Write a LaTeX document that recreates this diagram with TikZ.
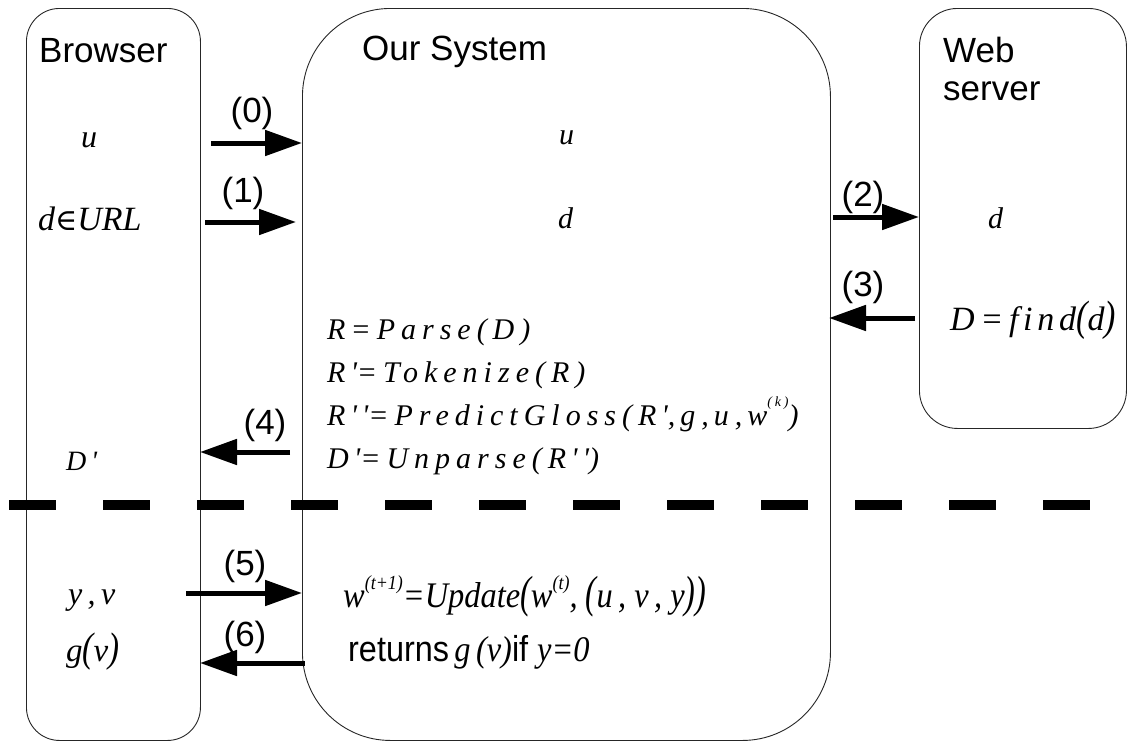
\documentclass[tikz,border=0pt]{standalone}
\usepackage{fontspec}
\setmainfont{Liberation Serif}
\setsansfont{Liberation Sans}
\newfontfamily\elemfont{DejaVu Serif}
\usetikzlibrary{arrows.meta}

\newcommand{\supx}[3][14]{\raisebox{#2}{\fontsize{#1}{#1}\selectfont #3}}
\newcommand{\pr}{\,\textquotesingle}
\newcommand{\tallp}[1]{\scalebox{1}[1.25]{#1}}

\tikzset{
  box/.style={draw=black!85, line width=0.9pt, anchor=north west, inner sep=0pt},
  flow/.style={line width=5pt, -{Triangle[length=37pt,width=25pt]}},
  numlabel/.style={font=\sffamily\fontsize{35}{38}\selectfont, inner sep=0pt},
  title/.style={font=\sffamily\fontsize{35}{38}\selectfont, anchor=base west, inner sep=0pt},
  var/.style={font=\fontsize{32}{34}\selectfont\itshape, anchor=base west, inner sep=0pt},
  formula/.style={font=\fontsize{30}{32}\selectfont\itshape\addfontfeatures{LetterSpace=20},
                  anchor=base west, inner sep=0pt},
  divider/.style={line width=10pt, dash pattern=on 47pt off 47pt},
}

\begin{document}
\begin{tikzpicture}[x=1pt, y=-1pt]
\useasboundingbox (0,0) rectangle (1128,742);

% the three parties
\node[box, rounded corners=33pt, minimum width=174pt, minimum height=732pt] (browser) at (26,8) {};
\node[box, rounded corners=88pt, minimum width=528pt, minimum height=732pt] (system) at (302,8) {};
\node[box, rounded corners=38pt, minimum width=207pt, minimum height=420pt] (server) at (919,8) {};

\node[title] (tb) at (39,62) {Browser};
\node[title] (ts) at (362,60) {Our System};
\node[title] (tw1) at (943,62) {Web};
\node[title] (tw2) at (943,100) {server};

% browser side values
\node[var] (bu) at (81,147) {u};
\node[var, font=\fontsize{34}{36}\selectfont\itshape] (bd) at (38,230) {d{\upshape\elemfont\fontsize{30}{32}\selectfont ∈}URL};
\node[var, font=\fontsize{28}{30}\selectfont\itshape] (bdp) at (66,470) {D\pr};
\node[var] (byv) at (68,604) {y\,,\,v};
\node[var, font=\fontsize{33}{35}\selectfont\itshape] (bg) at (66,661) {g\tallp{(}v\tallp{)}};

% system side values
\node[var, font=\fontsize{30}{32}\selectfont\itshape] (su) at (559,144) {u};
\node[var, font=\fontsize{30}{32}\selectfont\itshape] (sd) at (558,228) {d};

\node[formula] (f1) at (327,339) {R\,=Parse(D)};
\node[formula] (f2) at (327,382) {R\pr=Tokenize(R)};
\node[formula] (f3) at (327,425) {R\pr\pr=PredictGloss(R\pr,\,g,\,u,\,w\supx{0.62em}{(k)})};
\node[formula] (f4) at (327,468) {D\pr=Unparse(R\pr\pr)};

\node[anchor=base west, inner sep=0pt] (upd) at (343,607)
  {\scalebox{0.9}[1]{\fontsize{36}{38}\selectfont\itshape
   w\supx[20]{0.5em}{(t+1)}=Update\tallp{(}w\supx[20]{0.5em}{(t)}, \tallp{(}u\,, v\,, y\tallp{))}}};
\node[anchor=base west, inner sep=0pt] (ret) at (348,661)
  {\scalebox{0.9}[1]{\fontsize{36}{38}\selectfont\sffamily returns\,\rmfamily\itshape g\,(v)\sffamily\upshape if \rmfamily\itshape y=0}};

% web server values
\node[var, font=\fontsize{30}{32}\selectfont\itshape] (wd) at (988,228) {d};
\node[var, anchor=base, font=\fontsize{34}{36}\selectfont\itshape\addfontfeatures{LetterSpace=14}] (wD) at (1033,330)
  {D\,=\,find\tallp{(}d\tallp{)}};

% message end points
\coordinate (a0s) at (211,143); \coordinate (a0e) at (302,143);
\coordinate (a1s) at (205,222); \coordinate (a1e) at (296,222);
\coordinate (a2s) at (833,217); \coordinate (a2e) at (919,217);
\coordinate (a3s) at (915,318); \coordinate (a3e) at (829,318);
\coordinate (a4s) at (290,452); \coordinate (a4e) at (200,452);
\coordinate (a5s) at (186,593); \coordinate (a5e) at (302,593);
\coordinate (a6s) at (305,663); \coordinate (a6e) at (200,663);

\draw[flow] (a0s) -- (a0e);
\draw[flow] (a1s) -- (a1e);
\draw[flow] (a2s) -- (a2e);
\draw[flow] (a3s) -- (a3e);
\draw[flow] (a4s) -- (a4e);
\draw[flow] (a5s) -- (a5e);
\draw[flow] (a6s) -- (a6e);

\node[numlabel] (l0) at (252,113) {(0)};
\node[numlabel] (l1) at (243,193) {(1)};
\node[numlabel] (l2) at (863,197) {(2)};
\node[numlabel] (l3) at (863,287) {(3)};
\node[numlabel] (l4) at (265,425) {(4)};
\node[numlabel] (l5) at (245,566) {(5)};
\node[numlabel] (l6) at (245,637) {(6)};

% phase separator
\coordinate (ds) at (9.4,505); \coordinate (de) at (1094,505);
\draw[divider] (ds) -- (de);
\end{tikzpicture}
\end{document}
